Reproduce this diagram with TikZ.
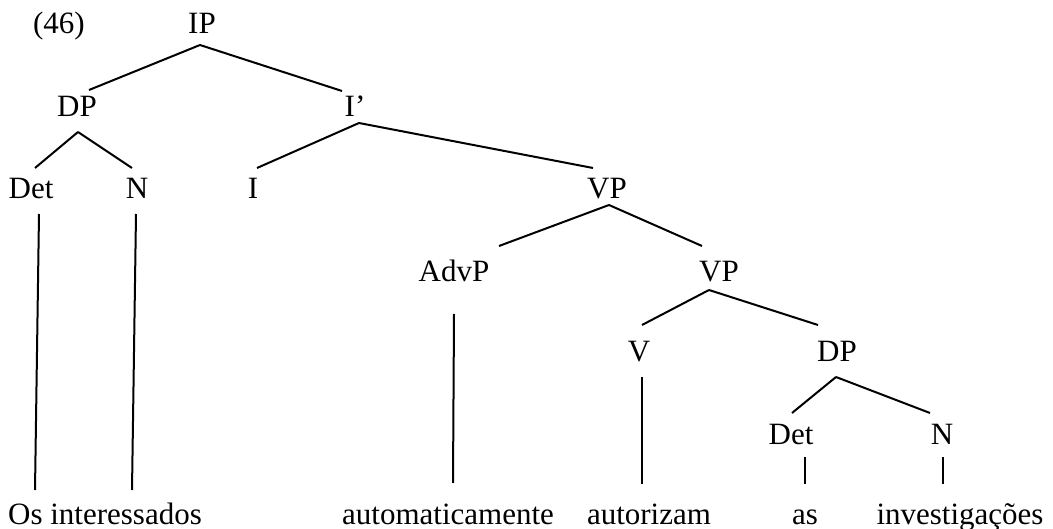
\documentclass[tikz,border=0pt]{standalone}
\usepackage{fontspec}
\setmainfont{Liberation Serif}
\begin{document}
\begin{tikzpicture}[x=1pt,y=-1pt,
  lbl/.style={anchor=base,inner sep=0pt,font=\fontsize{31}{37}\selectfont},
  edge/.style={line width=2pt,black}]
\useasboundingbox (0,0) rectangle (1053,529);

% example number
\node[lbl] (num) at (59,34) {(46)};

% category labels
\node[lbl] (IP)   at (202,34)  {IP};
\node[lbl] (DPa)  at (77,117)  {DP};
\node[lbl] (Ibar) at (355,117) {I’};
\node[lbl] (Deta) at (31,199)  {Det};
\node[lbl] (Na)   at (137,199) {N};
\node[lbl] (I)    at (253,199) {I};
\node[lbl] (VPa)  at (607,199) {VP};
\node[lbl] (AdvP) at (454,282) {AdvP};
\node[lbl] (VPb)  at (719,282) {VP};
\node[lbl] (V)    at (639,362) {V};
\node[lbl] (DPb)  at (837,362) {DP};
\node[lbl] (Detb) at (791,445) {Det};
\node[lbl] (Nb)   at (942,445) {N};

% terminal words
\node[lbl] (w1) at (105,524) {Os interessados};
\node[lbl] (w2) at (448,524) {automaticamente};
\node[lbl] (w3) at (649,524) {autorizam};
\node[lbl] (w4) at (805,524) {as};
\node[lbl] (w5) at (960,524) {investigações};

% branches
\draw[edge] ([shift={(-2,11)}]IP.base)   -- ([shift={(12,-27)}]DPa.base);
\draw[edge] ([shift={(-2,11)}]IP.base)   -- ([shift={(-13,-26)}]Ibar.base);
\draw[edge] ([shift={(1,15)}]DPa.base)   -- ([shift={(4,-31)}]Deta.base);
\draw[edge] ([shift={(1,15)}]DPa.base)   -- ([shift={(-5,-31)}]Na.base);
\draw[edge] ([shift={(4,6)}]Ibar.base)   -- ([shift={(4,-31)}]I.base);
\draw[edge] ([shift={(4,6)}]Ibar.base)   -- ([shift={(-14,-31)}]VPa.base);
\draw[edge] ([shift={(2,6)}]VPa.base)    -- ([shift={(45,-36)}]AdvP.base);
\draw[edge] ([shift={(2,6)}]VPa.base)    -- ([shift={(-17,-36)}]VPb.base);
\draw[edge] ([shift={(-10,8)}]VPb.base)  -- ([shift={(3,-37)}]V.base);
\draw[edge] ([shift={(-10,8)}]VPb.base)  -- ([shift={(-19,-37)}]DPb.base);
\draw[edge] ([shift={(-1,15)}]DPb.base)  -- ([shift={(1,-32)}]Detb.base);
\draw[edge] ([shift={(-1,15)}]DPb.base)  -- ([shift={(-12,-32)}]Nb.base);

% lines down to the words
\draw[edge] ([shift={(8,15)}]Deta.base)  -- ([shift={(-70,-34)}]w1.base);
\draw[edge] ([shift={(-1,15)}]Na.base)   -- ([shift={(27,-34)}]w1.base);
\draw[edge] ([shift={(0,32)}]AdvP.base)  -- ([shift={(5,-41)}]w2.base);
\draw[edge] ([shift={(3,15)}]V.base)     -- ([shift={(-7,-40)}]w3.base);
\draw[edge] ([shift={(14,12)}]Detb.base) -- ([shift={(0,-40)}]w4.base);
\draw[edge] ([shift={(1,12)}]Nb.base)    -- ([shift={(-17,-40)}]w5.base);
\end{tikzpicture}
\end{document}
